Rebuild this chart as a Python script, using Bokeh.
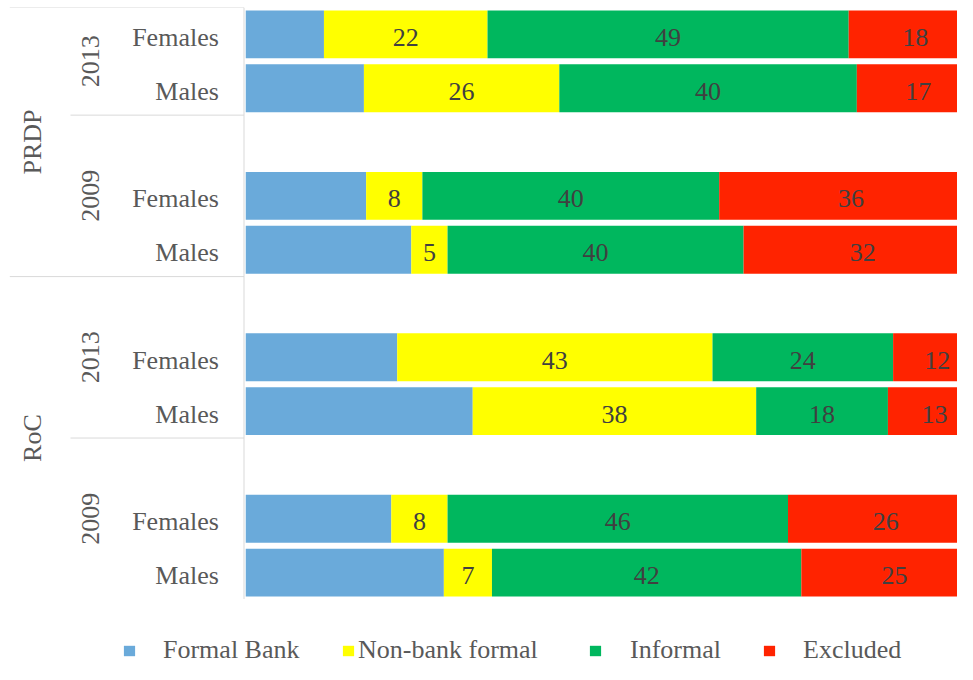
from bokeh.plotting import figure
from bokeh.models import ColumnDataSource, FactorRange, Range1d, Legend, LegendItem
from bokeh.layouts import row, column
from bokeh.core.properties import value
from bokeh.embed import file_html
from bokeh.resources import INLINE

# ---------------- data ----------------
regions = ["PRDP", "RoC"]
years = ["2013", "2009"]
genders = ["Females", "Males"]
series = ["Formal Bank", "Non-bank formal", "Informal", "Excluded"]

# rows, top to bottom: PRDP 2013 F/M, PRDP 2009 F/M, RoC 2013 F/M, RoC 2009 F/M
formal_bank     = [10.6, 16.0, 16.3, 22.4, 20.5, 30.7, 19.7, 26.8]
non_bank_formal = [22.1, 26.4,  7.6,  4.9, 42.6, 38.3,  7.6,  6.5]
informal        = [48.8, 40.2, 40.1, 40.0, 24.4, 17.8, 46.0, 41.8]
excluded        = [18.0, 16.6, 35.6, 32.2, 11.9, 12.6, 26.4, 25.2]

# ---------------- styles / layout ----------------
colors = ["#6AAADA", "#FFFF00", "#00B75E", "#FF2300"]
FONT_NAME = "Liberation Serif"
FONT = value(FONT_NAME)
FS = "26px"
AXIS_TXT = "#595959"
LBL_TXT = "#404040"
SEP = "#D9D9D9"
LEFT_W, MAIN_W, PLOT_H, LEG_H, TOP = 245, 712, 599, 65, 7
X_END = 96.2
GENDER_X, YEAR_X, REGION_X = 218.3, 90.0, 32.0
SEP_FULL_X0, SEP_YEAR_X0, AXIS_X = 9.3, 70.0, 243.5
# legend: (left x of swatch within legend frame, label standoff)
LEG_POS = [(122, 27), (341, 3), (588, 28), (762, 27)]
LEG_Y = -1

rows = [(r, y, g) for r in regions for y in years for g in genders]

# category slots top-down, with an empty slot opening every later year group
top_down = []
for i, r in enumerate(regions):
    for j, y in enumerate(years):
        if i or j:
            top_down.append((r, y, " "))
        for g in genders:
            top_down.append((r, y, g))
y_range = FactorRange(factors=list(reversed(top_down)), factor_padding=0,
                      subgroup_padding=0, group_padding=0, range_padding=0)


def base_fig(width, height, x_range, y_range, top=TOP):
    p = figure(width=width, height=height, x_range=x_range, y_range=y_range,
               output_backend="svg", toolbar_location=None,
               x_axis_location=None, y_axis_location=None,
               min_border_left=0, min_border_right=0, min_border_bottom=0,
               min_border_top=top, outline_line_color=None)
    p.grid.visible = False
    return p


# ---------------- main bars ----------------
src = ColumnDataSource(dict(y=rows, fb=formal_bank, nb=non_bank_formal,
                            inf=informal, exc=excluded))
main = base_fig(MAIN_W, PLOT_H, Range1d(0, X_END), y_range)
main.hbar_stack(["fb", "nb", "inf", "exc"], y="y", height=0.89, color=colors,
                line_color=None, source=src)

lx, ly, lt = [], [], []
for k, rf in enumerate(rows):
    left = 0.0
    for si, vals in enumerate([formal_bank, non_bank_formal, informal, excluded]):
        v = vals[k]
        if si > 0:
            lx.append(left + v / 2)
            ly.append(rf)
            lt.append(str(int(v + 0.5)))
        left += v
main.text(x=lx, y=ly, text=lt, text_align="center", text_baseline="middle",
          text_font=FONT, text_font_size=FS, text_color=LBL_TXT, y_offset=3)

# ---------------- left category labels ----------------
lab = base_fig(LEFT_W, PLOT_H, Range1d(0, LEFT_W), y_range)
lab.text(x=[GENDER_X] * len(rows), y=rows, text=[r[2] for r in rows],
         text_align="right", text_baseline="middle", text_font=FONT,
         text_font_size=FS, text_color=AXIS_TXT, y_offset=3)
sub = [(r, y) for r in regions for y in years]
lab.text(x=[YEAR_X] * len(sub), y=sub, text=[s[1] for s in sub], angle=1.5708,
         text_align="center", text_baseline="middle", text_font=FONT,
         text_font_size=FS, text_color=AXIS_TXT)
lab.text(x=[REGION_X] * len(regions), y=regions, text=regions, angle=1.5708,
         text_align="center", text_baseline="middle", text_font=FONT,
         text_font_size=FS, text_color=AXIS_TXT)

top_edge = rows[0] + (0.5,)
bottom_edge = rows[-1] + (-0.5,)
sx0, sy = [SEP_FULL_X0], [top_edge]
for i, r in enumerate(regions):
    for j, y in enumerate(years):
        sy.append((r, y, genders[-1], -0.5))
        sx0.append(SEP_FULL_X0 if j == len(years) - 1 else SEP_YEAR_X0)
lab.segment(x0=sx0, y0=sy, x1=[AXIS_X] * len(sy), y1=sy, line_color=SEP, line_width=1)
lab.segment(x0=[AXIS_X], y0=[top_edge], x1=[AXIS_X], y1=[bottom_edge],
            line_color=SEP, line_width=1)

# ---------------- legend ----------------
leg = base_fig(MAIN_W + LEFT_W, LEG_H, Range1d(0, 1), Range1d(0, 1), top=0)
for s, c, (px, so) in zip(series, colors, LEG_POS):
    # zero-length swatch carrier (draws nothing in the frame)
    r = leg.hbar(y=[0.5], left=[0], right=[0], height=0, color=c, line_color=None)
    lg = Legend(items=[LegendItem(label=s, renderers=[r])], location=(px, LEG_Y),
                orientation="horizontal", glyph_width=14, glyph_height=13,
                label_standoff=so, padding=0, margin=0, spacing=0,
                border_line_color=None, background_fill_alpha=0,
                label_text_font=FONT_NAME, label_text_font_size=FS,
                label_text_color=AXIS_TXT)
    leg.add_layout(lg)

layout = column(row(lab, main), leg)
open("out.html", "w").write(file_html(layout, INLINE))
